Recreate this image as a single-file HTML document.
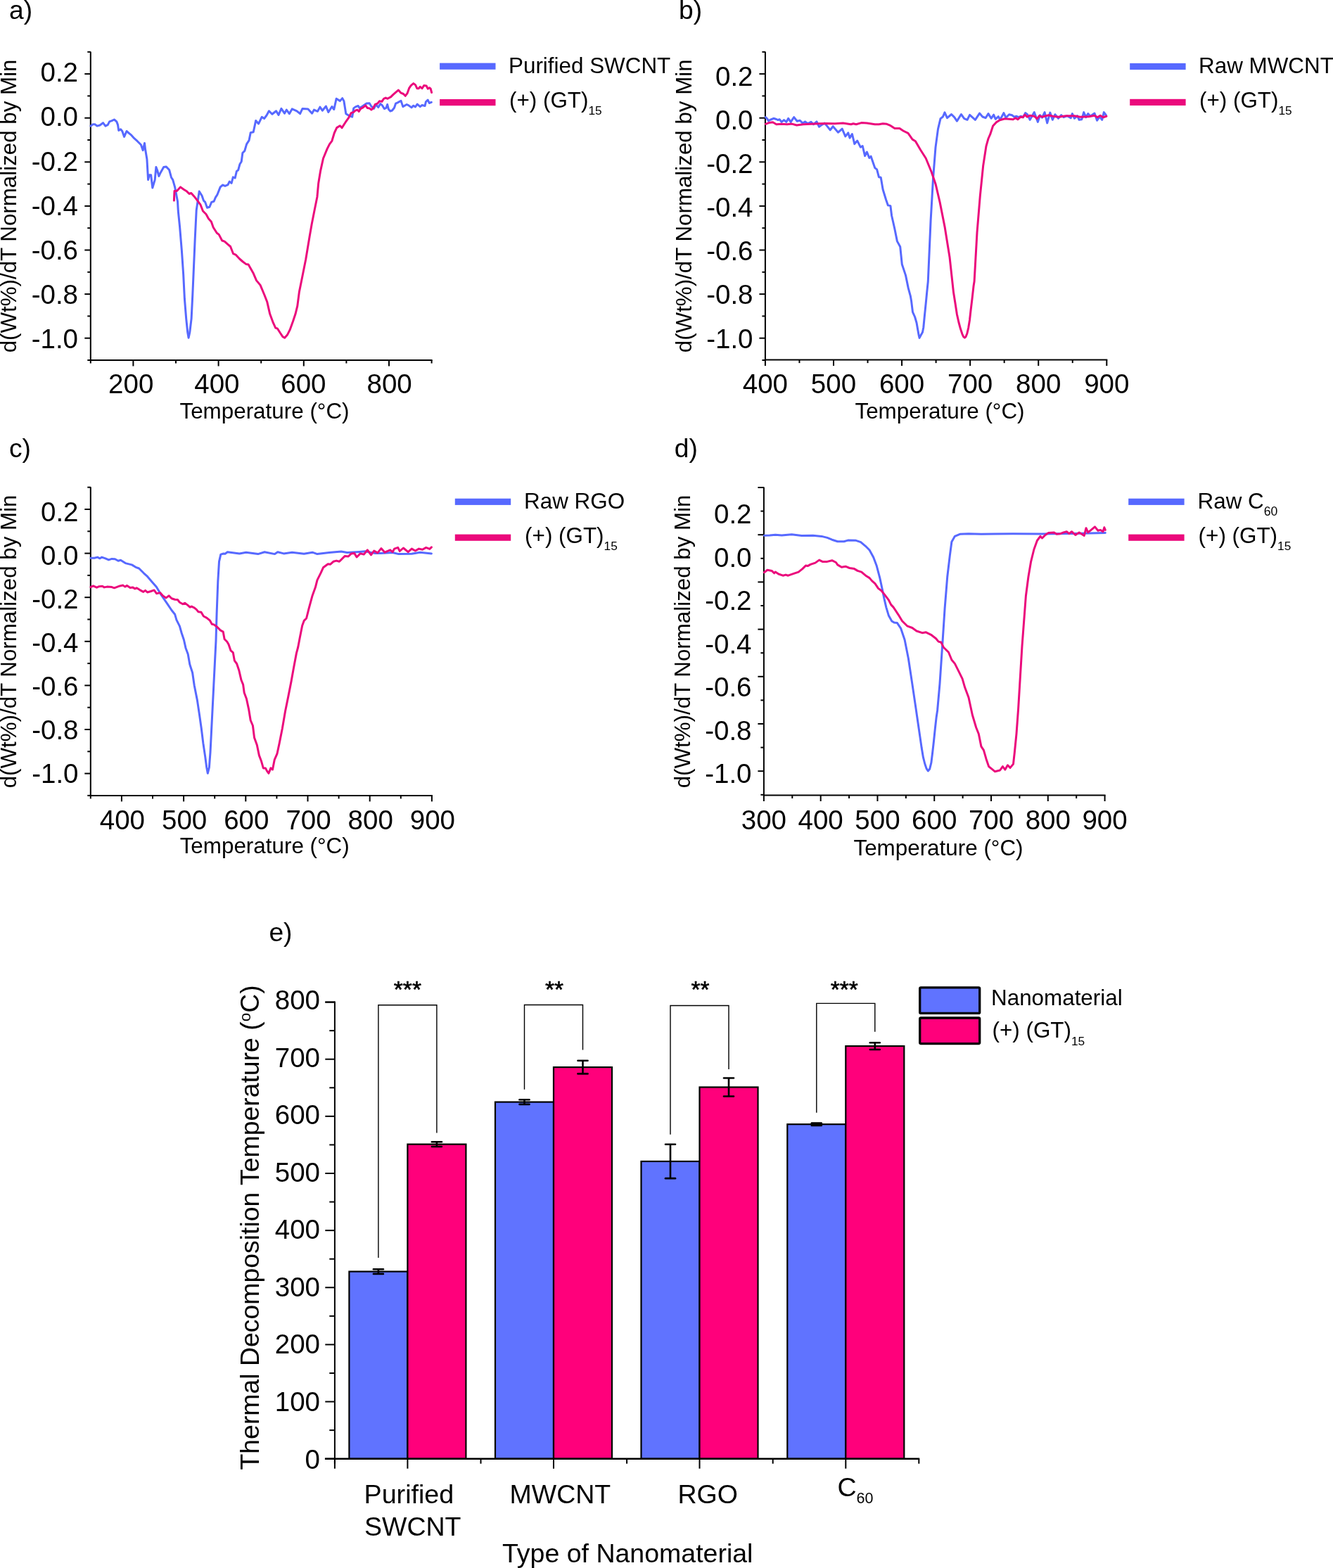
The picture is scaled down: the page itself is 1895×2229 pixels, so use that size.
<!DOCTYPE html>
<html><head><meta charset="utf-8"><title>Figure</title>
<style>html,body{margin:0;padding:0;background:#fff;} svg{display:block;} text{font-family:'Liberation Sans', Arial, sans-serif;fill:#000;}</style>
</head><body>
<svg width="1895" height="2229" viewBox="0 0 1895 2229">
<rect width="1895" height="2229" fill="#fff"/>
<line x1="128.80" y1="73.50" x2="128.80" y2="512.00" stroke="#000" stroke-width="2.0" stroke-linecap="butt"/>
<line x1="127.80" y1="512.00" x2="614.60" y2="512.00" stroke="#000" stroke-width="2.0" stroke-linecap="butt"/>
<line x1="120.30" y1="105.10" x2="128.80" y2="105.10" stroke="#000" stroke-width="2.0" stroke-linecap="butt"/>
<line x1="120.30" y1="167.70" x2="128.80" y2="167.70" stroke="#000" stroke-width="2.0" stroke-linecap="butt"/>
<line x1="120.30" y1="230.30" x2="128.80" y2="230.30" stroke="#000" stroke-width="2.0" stroke-linecap="butt"/>
<line x1="120.30" y1="292.90" x2="128.80" y2="292.90" stroke="#000" stroke-width="2.0" stroke-linecap="butt"/>
<line x1="120.30" y1="355.50" x2="128.80" y2="355.50" stroke="#000" stroke-width="2.0" stroke-linecap="butt"/>
<line x1="120.30" y1="418.10" x2="128.80" y2="418.10" stroke="#000" stroke-width="2.0" stroke-linecap="butt"/>
<line x1="120.30" y1="480.70" x2="128.80" y2="480.70" stroke="#000" stroke-width="2.0" stroke-linecap="butt"/>
<line x1="124.30" y1="73.80" x2="128.80" y2="73.80" stroke="#000" stroke-width="2.0" stroke-linecap="butt"/>
<line x1="124.30" y1="136.40" x2="128.80" y2="136.40" stroke="#000" stroke-width="2.0" stroke-linecap="butt"/>
<line x1="124.30" y1="199.00" x2="128.80" y2="199.00" stroke="#000" stroke-width="2.0" stroke-linecap="butt"/>
<line x1="124.30" y1="261.60" x2="128.80" y2="261.60" stroke="#000" stroke-width="2.0" stroke-linecap="butt"/>
<line x1="124.30" y1="324.20" x2="128.80" y2="324.20" stroke="#000" stroke-width="2.0" stroke-linecap="butt"/>
<line x1="124.30" y1="386.80" x2="128.80" y2="386.80" stroke="#000" stroke-width="2.0" stroke-linecap="butt"/>
<line x1="124.30" y1="449.40" x2="128.80" y2="449.40" stroke="#000" stroke-width="2.0" stroke-linecap="butt"/>
<line x1="124.30" y1="512.00" x2="128.80" y2="512.00" stroke="#000" stroke-width="2.0" stroke-linecap="butt"/>
<line x1="189.40" y1="512.00" x2="189.40" y2="520.50" stroke="#000" stroke-width="2.0" stroke-linecap="butt"/>
<line x1="310.60" y1="512.00" x2="310.60" y2="520.50" stroke="#000" stroke-width="2.0" stroke-linecap="butt"/>
<line x1="431.80" y1="512.00" x2="431.80" y2="520.50" stroke="#000" stroke-width="2.0" stroke-linecap="butt"/>
<line x1="553.00" y1="512.00" x2="553.00" y2="520.50" stroke="#000" stroke-width="2.0" stroke-linecap="butt"/>
<line x1="128.80" y1="512.00" x2="128.80" y2="516.50" stroke="#000" stroke-width="2.0" stroke-linecap="butt"/>
<line x1="250.00" y1="512.00" x2="250.00" y2="516.50" stroke="#000" stroke-width="2.0" stroke-linecap="butt"/>
<line x1="371.20" y1="512.00" x2="371.20" y2="516.50" stroke="#000" stroke-width="2.0" stroke-linecap="butt"/>
<line x1="492.40" y1="512.00" x2="492.40" y2="516.50" stroke="#000" stroke-width="2.0" stroke-linecap="butt"/>
<line x1="613.60" y1="512.00" x2="613.60" y2="516.50" stroke="#000" stroke-width="2.0" stroke-linecap="butt"/>
<text x="111.00" y="116.45" font-size="38.5" text-anchor="end" >0.2</text>
<text x="111.00" y="179.49" font-size="38.5" text-anchor="end" >0.0</text>
<text x="111.00" y="242.53" font-size="38.5" text-anchor="end" >-0.2</text>
<text x="111.00" y="305.57" font-size="38.5" text-anchor="end" >-0.4</text>
<text x="111.00" y="368.61" font-size="38.5" text-anchor="end" >-0.6</text>
<text x="111.00" y="431.65" font-size="38.5" text-anchor="end" >-0.8</text>
<text x="111.00" y="494.69" font-size="38.5" text-anchor="end" >-1.0</text>
<text x="186.20" y="559.10" font-size="38.5" text-anchor="middle" >200</text>
<text x="308.40" y="559.10" font-size="38.5" text-anchor="middle" >400</text>
<text x="431.40" y="559.10" font-size="38.5" text-anchor="middle" >600</text>
<text x="553.60" y="559.10" font-size="38.5" text-anchor="middle" >800</text>
<rect x="625.1" y="89.6" width="79.4" height="9.2" fill="#5769ff"/>
<rect x="625.1" y="141.0" width="79.4" height="9.2" fill="#eb0a7c"/>
<text x="723.00" y="103.50" font-size="31.4" text-anchor="start" >Purified SWCNT</text>
<text x="724.0" y="152.9" font-size="31.4">(+) (GT)<tspan font-size="17.3" dy="10.1">15</tspan></text>
<line x1="1087.90" y1="73.50" x2="1087.90" y2="511.60" stroke="#000" stroke-width="2.0" stroke-linecap="butt"/>
<line x1="1086.90" y1="511.60" x2="1574.30" y2="511.60" stroke="#000" stroke-width="2.0" stroke-linecap="butt"/>
<line x1="1079.40" y1="105.10" x2="1087.90" y2="105.10" stroke="#000" stroke-width="2.0" stroke-linecap="butt"/>
<line x1="1079.40" y1="167.70" x2="1087.90" y2="167.70" stroke="#000" stroke-width="2.0" stroke-linecap="butt"/>
<line x1="1079.40" y1="230.30" x2="1087.90" y2="230.30" stroke="#000" stroke-width="2.0" stroke-linecap="butt"/>
<line x1="1079.40" y1="292.90" x2="1087.90" y2="292.90" stroke="#000" stroke-width="2.0" stroke-linecap="butt"/>
<line x1="1079.40" y1="355.50" x2="1087.90" y2="355.50" stroke="#000" stroke-width="2.0" stroke-linecap="butt"/>
<line x1="1079.40" y1="418.10" x2="1087.90" y2="418.10" stroke="#000" stroke-width="2.0" stroke-linecap="butt"/>
<line x1="1079.40" y1="480.70" x2="1087.90" y2="480.70" stroke="#000" stroke-width="2.0" stroke-linecap="butt"/>
<line x1="1083.40" y1="73.80" x2="1087.90" y2="73.80" stroke="#000" stroke-width="2.0" stroke-linecap="butt"/>
<line x1="1083.40" y1="136.40" x2="1087.90" y2="136.40" stroke="#000" stroke-width="2.0" stroke-linecap="butt"/>
<line x1="1083.40" y1="199.00" x2="1087.90" y2="199.00" stroke="#000" stroke-width="2.0" stroke-linecap="butt"/>
<line x1="1083.40" y1="261.60" x2="1087.90" y2="261.60" stroke="#000" stroke-width="2.0" stroke-linecap="butt"/>
<line x1="1083.40" y1="324.20" x2="1087.90" y2="324.20" stroke="#000" stroke-width="2.0" stroke-linecap="butt"/>
<line x1="1083.40" y1="386.80" x2="1087.90" y2="386.80" stroke="#000" stroke-width="2.0" stroke-linecap="butt"/>
<line x1="1083.40" y1="449.40" x2="1087.90" y2="449.40" stroke="#000" stroke-width="2.0" stroke-linecap="butt"/>
<line x1="1083.40" y1="512.00" x2="1087.90" y2="512.00" stroke="#000" stroke-width="2.0" stroke-linecap="butt"/>
<line x1="1087.90" y1="511.60" x2="1087.90" y2="520.10" stroke="#000" stroke-width="2.0" stroke-linecap="butt"/>
<line x1="1184.98" y1="511.60" x2="1184.98" y2="520.10" stroke="#000" stroke-width="2.0" stroke-linecap="butt"/>
<line x1="1282.06" y1="511.60" x2="1282.06" y2="520.10" stroke="#000" stroke-width="2.0" stroke-linecap="butt"/>
<line x1="1379.14" y1="511.60" x2="1379.14" y2="520.10" stroke="#000" stroke-width="2.0" stroke-linecap="butt"/>
<line x1="1476.22" y1="511.60" x2="1476.22" y2="520.10" stroke="#000" stroke-width="2.0" stroke-linecap="butt"/>
<line x1="1573.30" y1="511.60" x2="1573.30" y2="520.10" stroke="#000" stroke-width="2.0" stroke-linecap="butt"/>
<line x1="1136.44" y1="511.60" x2="1136.44" y2="516.10" stroke="#000" stroke-width="2.0" stroke-linecap="butt"/>
<line x1="1233.52" y1="511.60" x2="1233.52" y2="516.10" stroke="#000" stroke-width="2.0" stroke-linecap="butt"/>
<line x1="1330.60" y1="511.60" x2="1330.60" y2="516.10" stroke="#000" stroke-width="2.0" stroke-linecap="butt"/>
<line x1="1427.68" y1="511.60" x2="1427.68" y2="516.10" stroke="#000" stroke-width="2.0" stroke-linecap="butt"/>
<line x1="1524.76" y1="511.60" x2="1524.76" y2="516.10" stroke="#000" stroke-width="2.0" stroke-linecap="butt"/>
<text x="1070.50" y="121.80" font-size="38.5" text-anchor="end" >0.2</text>
<text x="1070.50" y="183.93" font-size="38.5" text-anchor="end" >0.0</text>
<text x="1070.50" y="246.06" font-size="38.5" text-anchor="end" >-0.2</text>
<text x="1070.50" y="308.19" font-size="38.5" text-anchor="end" >-0.4</text>
<text x="1070.50" y="370.32" font-size="38.5" text-anchor="end" >-0.6</text>
<text x="1070.50" y="432.45" font-size="38.5" text-anchor="end" >-0.8</text>
<text x="1070.50" y="494.58" font-size="38.5" text-anchor="end" >-1.0</text>
<text x="1087.90" y="558.70" font-size="38.5" text-anchor="middle" >400</text>
<text x="1184.98" y="558.70" font-size="38.5" text-anchor="middle" >500</text>
<text x="1282.06" y="558.70" font-size="38.5" text-anchor="middle" >600</text>
<text x="1379.14" y="558.70" font-size="38.5" text-anchor="middle" >700</text>
<text x="1476.22" y="558.70" font-size="38.5" text-anchor="middle" >800</text>
<text x="1573.30" y="558.70" font-size="38.5" text-anchor="middle" >900</text>
<rect x="1606.2" y="89.9" width="79.4" height="9.2" fill="#5769ff"/>
<rect x="1606.2" y="140.8" width="79.4" height="9.2" fill="#eb0a7c"/>
<text x="1704.00" y="103.70" font-size="31.4" text-anchor="start" >Raw MWCNT</text>
<text x="1705.0" y="153.0" font-size="31.4">(+) (GT)<tspan font-size="17.3" dy="10.1">15</tspan></text>
<line x1="128.80" y1="692.20" x2="128.80" y2="1130.90" stroke="#000" stroke-width="2.0" stroke-linecap="butt"/>
<line x1="127.80" y1="1130.90" x2="614.90" y2="1130.90" stroke="#000" stroke-width="2.0" stroke-linecap="butt"/>
<line x1="120.30" y1="724.00" x2="128.80" y2="724.00" stroke="#000" stroke-width="2.0" stroke-linecap="butt"/>
<line x1="120.30" y1="786.60" x2="128.80" y2="786.60" stroke="#000" stroke-width="2.0" stroke-linecap="butt"/>
<line x1="120.30" y1="849.20" x2="128.80" y2="849.20" stroke="#000" stroke-width="2.0" stroke-linecap="butt"/>
<line x1="120.30" y1="911.80" x2="128.80" y2="911.80" stroke="#000" stroke-width="2.0" stroke-linecap="butt"/>
<line x1="120.30" y1="974.40" x2="128.80" y2="974.40" stroke="#000" stroke-width="2.0" stroke-linecap="butt"/>
<line x1="120.30" y1="1037.00" x2="128.80" y2="1037.00" stroke="#000" stroke-width="2.0" stroke-linecap="butt"/>
<line x1="120.30" y1="1099.60" x2="128.80" y2="1099.60" stroke="#000" stroke-width="2.0" stroke-linecap="butt"/>
<line x1="124.30" y1="692.70" x2="128.80" y2="692.70" stroke="#000" stroke-width="2.0" stroke-linecap="butt"/>
<line x1="124.30" y1="755.30" x2="128.80" y2="755.30" stroke="#000" stroke-width="2.0" stroke-linecap="butt"/>
<line x1="124.30" y1="817.90" x2="128.80" y2="817.90" stroke="#000" stroke-width="2.0" stroke-linecap="butt"/>
<line x1="124.30" y1="880.50" x2="128.80" y2="880.50" stroke="#000" stroke-width="2.0" stroke-linecap="butt"/>
<line x1="124.30" y1="943.10" x2="128.80" y2="943.10" stroke="#000" stroke-width="2.0" stroke-linecap="butt"/>
<line x1="124.30" y1="1005.70" x2="128.80" y2="1005.70" stroke="#000" stroke-width="2.0" stroke-linecap="butt"/>
<line x1="124.30" y1="1068.30" x2="128.80" y2="1068.30" stroke="#000" stroke-width="2.0" stroke-linecap="butt"/>
<line x1="124.30" y1="1130.90" x2="128.80" y2="1130.90" stroke="#000" stroke-width="2.0" stroke-linecap="butt"/>
<line x1="172.90" y1="1130.90" x2="172.90" y2="1139.40" stroke="#000" stroke-width="2.0" stroke-linecap="butt"/>
<line x1="261.10" y1="1130.90" x2="261.10" y2="1139.40" stroke="#000" stroke-width="2.0" stroke-linecap="butt"/>
<line x1="349.30" y1="1130.90" x2="349.30" y2="1139.40" stroke="#000" stroke-width="2.0" stroke-linecap="butt"/>
<line x1="437.50" y1="1130.90" x2="437.50" y2="1139.40" stroke="#000" stroke-width="2.0" stroke-linecap="butt"/>
<line x1="525.70" y1="1130.90" x2="525.70" y2="1139.40" stroke="#000" stroke-width="2.0" stroke-linecap="butt"/>
<line x1="613.90" y1="1130.90" x2="613.90" y2="1139.40" stroke="#000" stroke-width="2.0" stroke-linecap="butt"/>
<line x1="128.80" y1="1130.90" x2="128.80" y2="1135.40" stroke="#000" stroke-width="2.0" stroke-linecap="butt"/>
<line x1="217.00" y1="1130.90" x2="217.00" y2="1135.40" stroke="#000" stroke-width="2.0" stroke-linecap="butt"/>
<line x1="305.20" y1="1130.90" x2="305.20" y2="1135.40" stroke="#000" stroke-width="2.0" stroke-linecap="butt"/>
<line x1="393.40" y1="1130.90" x2="393.40" y2="1135.40" stroke="#000" stroke-width="2.0" stroke-linecap="butt"/>
<line x1="481.60" y1="1130.90" x2="481.60" y2="1135.40" stroke="#000" stroke-width="2.0" stroke-linecap="butt"/>
<line x1="569.80" y1="1130.90" x2="569.80" y2="1135.40" stroke="#000" stroke-width="2.0" stroke-linecap="butt"/>
<text x="111.50" y="741.40" font-size="38.5" text-anchor="end" >0.2</text>
<text x="111.50" y="803.40" font-size="38.5" text-anchor="end" >0.0</text>
<text x="111.50" y="865.40" font-size="38.5" text-anchor="end" >-0.2</text>
<text x="111.50" y="927.40" font-size="38.5" text-anchor="end" >-0.4</text>
<text x="111.50" y="989.40" font-size="38.5" text-anchor="end" >-0.6</text>
<text x="111.50" y="1051.40" font-size="38.5" text-anchor="end" >-0.8</text>
<text x="111.50" y="1113.40" font-size="38.5" text-anchor="end" >-1.0</text>
<text x="173.90" y="1178.70" font-size="38.5" text-anchor="middle" >400</text>
<text x="262.10" y="1178.70" font-size="38.5" text-anchor="middle" >500</text>
<text x="350.30" y="1178.70" font-size="38.5" text-anchor="middle" >600</text>
<text x="438.50" y="1178.70" font-size="38.5" text-anchor="middle" >700</text>
<text x="526.70" y="1178.70" font-size="38.5" text-anchor="middle" >800</text>
<text x="614.90" y="1178.70" font-size="38.5" text-anchor="middle" >900</text>
<rect x="646.8" y="708.7" width="79.4" height="9.2" fill="#5769ff"/>
<rect x="646.8" y="759.6" width="79.4" height="9.2" fill="#eb0a7c"/>
<text x="745.10" y="722.60" font-size="31.4" text-anchor="start" >Raw RGO</text>
<text x="746.1" y="772.3" font-size="31.4">(+) (GT)<tspan font-size="17.3" dy="10.1">15</tspan></text>
<line x1="1085.90" y1="692.50" x2="1085.90" y2="1130.50" stroke="#000" stroke-width="2.0" stroke-linecap="butt"/>
<line x1="1084.90" y1="1130.50" x2="1571.58" y2="1130.50" stroke="#000" stroke-width="2.0" stroke-linecap="butt"/>
<line x1="1077.40" y1="693.00" x2="1085.90" y2="693.00" stroke="#000" stroke-width="2.0" stroke-linecap="butt"/>
<line x1="1077.40" y1="760.20" x2="1085.90" y2="760.20" stroke="#000" stroke-width="2.0" stroke-linecap="butt"/>
<line x1="1077.40" y1="827.40" x2="1085.90" y2="827.40" stroke="#000" stroke-width="2.0" stroke-linecap="butt"/>
<line x1="1077.40" y1="894.60" x2="1085.90" y2="894.60" stroke="#000" stroke-width="2.0" stroke-linecap="butt"/>
<line x1="1077.40" y1="961.80" x2="1085.90" y2="961.80" stroke="#000" stroke-width="2.0" stroke-linecap="butt"/>
<line x1="1077.40" y1="1029.00" x2="1085.90" y2="1029.00" stroke="#000" stroke-width="2.0" stroke-linecap="butt"/>
<line x1="1077.40" y1="1096.20" x2="1085.90" y2="1096.20" stroke="#000" stroke-width="2.0" stroke-linecap="butt"/>
<line x1="1081.40" y1="726.60" x2="1085.90" y2="726.60" stroke="#000" stroke-width="2.0" stroke-linecap="butt"/>
<line x1="1081.40" y1="793.80" x2="1085.90" y2="793.80" stroke="#000" stroke-width="2.0" stroke-linecap="butt"/>
<line x1="1081.40" y1="861.00" x2="1085.90" y2="861.00" stroke="#000" stroke-width="2.0" stroke-linecap="butt"/>
<line x1="1081.40" y1="928.20" x2="1085.90" y2="928.20" stroke="#000" stroke-width="2.0" stroke-linecap="butt"/>
<line x1="1081.40" y1="995.40" x2="1085.90" y2="995.40" stroke="#000" stroke-width="2.0" stroke-linecap="butt"/>
<line x1="1081.40" y1="1062.60" x2="1085.90" y2="1062.60" stroke="#000" stroke-width="2.0" stroke-linecap="butt"/>
<line x1="1081.40" y1="1129.80" x2="1085.90" y2="1129.80" stroke="#000" stroke-width="2.0" stroke-linecap="butt"/>
<line x1="1085.90" y1="1130.50" x2="1085.90" y2="1139.00" stroke="#000" stroke-width="2.0" stroke-linecap="butt"/>
<line x1="1166.68" y1="1130.50" x2="1166.68" y2="1139.00" stroke="#000" stroke-width="2.0" stroke-linecap="butt"/>
<line x1="1247.46" y1="1130.50" x2="1247.46" y2="1139.00" stroke="#000" stroke-width="2.0" stroke-linecap="butt"/>
<line x1="1328.24" y1="1130.50" x2="1328.24" y2="1139.00" stroke="#000" stroke-width="2.0" stroke-linecap="butt"/>
<line x1="1409.02" y1="1130.50" x2="1409.02" y2="1139.00" stroke="#000" stroke-width="2.0" stroke-linecap="butt"/>
<line x1="1489.80" y1="1130.50" x2="1489.80" y2="1139.00" stroke="#000" stroke-width="2.0" stroke-linecap="butt"/>
<line x1="1570.58" y1="1130.50" x2="1570.58" y2="1139.00" stroke="#000" stroke-width="2.0" stroke-linecap="butt"/>
<line x1="1126.29" y1="1130.50" x2="1126.29" y2="1135.00" stroke="#000" stroke-width="2.0" stroke-linecap="butt"/>
<line x1="1207.07" y1="1130.50" x2="1207.07" y2="1135.00" stroke="#000" stroke-width="2.0" stroke-linecap="butt"/>
<line x1="1287.85" y1="1130.50" x2="1287.85" y2="1135.00" stroke="#000" stroke-width="2.0" stroke-linecap="butt"/>
<line x1="1368.63" y1="1130.50" x2="1368.63" y2="1135.00" stroke="#000" stroke-width="2.0" stroke-linecap="butt"/>
<line x1="1449.41" y1="1130.50" x2="1449.41" y2="1135.00" stroke="#000" stroke-width="2.0" stroke-linecap="butt"/>
<line x1="1530.19" y1="1130.50" x2="1530.19" y2="1135.00" stroke="#000" stroke-width="2.0" stroke-linecap="butt"/>
<text x="1068.50" y="744.30" font-size="38.5" text-anchor="end" >0.2</text>
<text x="1068.50" y="805.83" font-size="38.5" text-anchor="end" >0.0</text>
<text x="1068.50" y="867.36" font-size="38.5" text-anchor="end" >-0.2</text>
<text x="1068.50" y="928.89" font-size="38.5" text-anchor="end" >-0.4</text>
<text x="1068.50" y="990.42" font-size="38.5" text-anchor="end" >-0.6</text>
<text x="1068.50" y="1051.95" font-size="38.5" text-anchor="end" >-0.8</text>
<text x="1068.50" y="1113.48" font-size="38.5" text-anchor="end" >-1.0</text>
<text x="1085.90" y="1178.90" font-size="38.5" text-anchor="middle" >300</text>
<text x="1166.68" y="1178.90" font-size="38.5" text-anchor="middle" >400</text>
<text x="1247.46" y="1178.90" font-size="38.5" text-anchor="middle" >500</text>
<text x="1328.24" y="1178.90" font-size="38.5" text-anchor="middle" >600</text>
<text x="1409.02" y="1178.90" font-size="38.5" text-anchor="middle" >700</text>
<text x="1489.80" y="1178.90" font-size="38.5" text-anchor="middle" >800</text>
<text x="1570.58" y="1178.90" font-size="38.5" text-anchor="middle" >900</text>
<rect x="1604.2" y="708.7" width="79.4" height="9.2" fill="#5769ff"/>
<rect x="1604.2" y="759.6" width="79.4" height="9.2" fill="#eb0a7c"/>
<text x="1702.6" y="722.6" font-size="31.4">Raw C<tspan font-size="17.6" dy="10.2">60</tspan></text>
<text x="1703.6" y="772.3" font-size="31.4">(+) (GT)<tspan font-size="17.3" dy="10.1">15</tspan></text>
<text x="376.00" y="595.00" font-size="31.4" text-anchor="middle" >Temperature (°C)</text>
<text x="1336.00" y="594.80" font-size="31.4" text-anchor="middle" >Temperature (°C)</text>
<text x="376.20" y="1213.30" font-size="31.4" text-anchor="middle" >Temperature (°C)</text>
<text x="1334.00" y="1216.30" font-size="31.4" text-anchor="middle" >Temperature (°C)</text>
<text transform="translate(23.4,292.9) rotate(-90)" x="0" y="0" font-size="31.3" text-anchor="middle">d(Wt%)/dT Normalized by Min</text>
<text transform="translate(982.9,292.8) rotate(-90)" x="0" y="0" font-size="31.3" text-anchor="middle">d(Wt%)/dT Normalized by Min</text>
<text transform="translate(23.3,911.9) rotate(-90)" x="0" y="0" font-size="31.3" text-anchor="middle">d(Wt%)/dT Normalized by Min</text>
<text transform="translate(980.9,911.9) rotate(-90)" x="0" y="0" font-size="31.3" text-anchor="middle">d(Wt%)/dT Normalized by Min</text>
<text x="13.00" y="27.20" font-size="37.2" text-anchor="start" >a)</text>
<text x="965.00" y="27.20" font-size="37.2" text-anchor="start" >b)</text>
<text x="13.00" y="649.70" font-size="37.2" text-anchor="start" >c)</text>
<text x="958.80" y="649.70" font-size="37.2" text-anchor="start" >d)</text>
<text x="382.40" y="1338.30" font-size="37.2" text-anchor="start" >e)</text>
<rect x="496.40" y="1807.56" width="83.00" height="266.14" fill="#6073ff" stroke="#000" stroke-width="2.2"/>
<rect x="579.40" y="1626.62" width="83.00" height="447.08" fill="#ff007b" stroke="#000" stroke-width="2.2"/>
<rect x="704.00" y="1566.57" width="83.00" height="507.12" fill="#6073ff" stroke="#000" stroke-width="2.2"/>
<rect x="787.00" y="1517.08" width="83.00" height="556.62" fill="#ff007b" stroke="#000" stroke-width="2.2"/>
<rect x="911.50" y="1650.96" width="83.00" height="422.74" fill="#6073ff" stroke="#000" stroke-width="2.2"/>
<rect x="994.50" y="1545.48" width="83.00" height="528.22" fill="#ff007b" stroke="#000" stroke-width="2.2"/>
<rect x="1119.30" y="1598.22" width="83.00" height="475.48" fill="#6073ff" stroke="#000" stroke-width="2.2"/>
<rect x="1202.30" y="1487.06" width="83.00" height="586.64" fill="#ff007b" stroke="#000" stroke-width="2.2"/>
<line x1="537.90" y1="1804.23" x2="537.90" y2="1810.89" stroke="#000" stroke-width="2.6" stroke-linecap="butt"/>
<line x1="530.90" y1="1804.23" x2="544.90" y2="1804.23" stroke="#000" stroke-width="2.6" stroke-linecap="round"/>
<line x1="530.90" y1="1810.89" x2="544.90" y2="1810.89" stroke="#000" stroke-width="2.6" stroke-linecap="round"/>
<line x1="620.90" y1="1623.29" x2="620.90" y2="1629.95" stroke="#000" stroke-width="2.6" stroke-linecap="butt"/>
<line x1="613.90" y1="1623.29" x2="627.90" y2="1623.29" stroke="#000" stroke-width="2.6" stroke-linecap="round"/>
<line x1="613.90" y1="1629.95" x2="627.90" y2="1629.95" stroke="#000" stroke-width="2.6" stroke-linecap="round"/>
<line x1="745.50" y1="1563.25" x2="745.50" y2="1569.90" stroke="#000" stroke-width="2.6" stroke-linecap="butt"/>
<line x1="738.50" y1="1563.25" x2="752.50" y2="1563.25" stroke="#000" stroke-width="2.6" stroke-linecap="round"/>
<line x1="738.50" y1="1569.90" x2="752.50" y2="1569.90" stroke="#000" stroke-width="2.6" stroke-linecap="round"/>
<line x1="828.50" y1="1507.75" x2="828.50" y2="1526.41" stroke="#000" stroke-width="2.6" stroke-linecap="butt"/>
<line x1="821.50" y1="1507.75" x2="835.50" y2="1507.75" stroke="#000" stroke-width="2.6" stroke-linecap="round"/>
<line x1="821.50" y1="1526.41" x2="835.50" y2="1526.41" stroke="#000" stroke-width="2.6" stroke-linecap="round"/>
<line x1="953.00" y1="1626.78" x2="953.00" y2="1675.14" stroke="#000" stroke-width="2.6" stroke-linecap="butt"/>
<line x1="946.00" y1="1626.78" x2="960.00" y2="1626.78" stroke="#000" stroke-width="2.6" stroke-linecap="round"/>
<line x1="946.00" y1="1675.14" x2="960.00" y2="1675.14" stroke="#000" stroke-width="2.6" stroke-linecap="round"/>
<line x1="1036.00" y1="1532.50" x2="1036.00" y2="1558.46" stroke="#000" stroke-width="2.6" stroke-linecap="butt"/>
<line x1="1029.00" y1="1532.50" x2="1043.00" y2="1532.50" stroke="#000" stroke-width="2.6" stroke-linecap="round"/>
<line x1="1029.00" y1="1558.46" x2="1043.00" y2="1558.46" stroke="#000" stroke-width="2.6" stroke-linecap="round"/>
<line x1="1160.80" y1="1596.43" x2="1160.80" y2="1600.00" stroke="#000" stroke-width="2.6" stroke-linecap="butt"/>
<line x1="1153.80" y1="1596.43" x2="1167.80" y2="1596.43" stroke="#000" stroke-width="2.6" stroke-linecap="round"/>
<line x1="1153.80" y1="1600.00" x2="1167.80" y2="1600.00" stroke="#000" stroke-width="2.6" stroke-linecap="round"/>
<line x1="1243.80" y1="1482.19" x2="1243.80" y2="1491.93" stroke="#000" stroke-width="2.6" stroke-linecap="butt"/>
<line x1="1236.80" y1="1482.19" x2="1250.80" y2="1482.19" stroke="#000" stroke-width="2.6" stroke-linecap="round"/>
<line x1="1236.80" y1="1491.93" x2="1250.80" y2="1491.93" stroke="#000" stroke-width="2.6" stroke-linecap="round"/>
<polyline points="537.90,1787.90 537.90,1428.80 620.90,1428.80 620.90,1610.50" fill="none" stroke="#000" stroke-width="1.4"/>
<polyline points="745.50,1548.80 745.50,1428.50 828.50,1428.50 828.50,1492.50" fill="none" stroke="#000" stroke-width="1.4"/>
<polyline points="953.00,1612.70 953.00,1429.50 1036.00,1429.50 1036.00,1520.10" fill="none" stroke="#000" stroke-width="1.4"/>
<polyline points="1160.80,1581.80 1160.80,1426.40 1243.80,1426.40 1243.80,1466.70" fill="none" stroke="#000" stroke-width="1.4"/>
<text x="579.40" y="1417.60" font-size="33.5" text-anchor="middle" stroke="#000" stroke-width="0.6">***</text>
<text x="788.00" y="1417.60" font-size="33.5" text-anchor="middle" stroke="#000" stroke-width="0.6">**</text>
<text x="995.50" y="1417.60" font-size="33.5" text-anchor="middle" stroke="#000" stroke-width="0.6">**</text>
<text x="1200.30" y="1417.60" font-size="33.5" text-anchor="middle" stroke="#000" stroke-width="0.6">***</text>
<line x1="475.90" y1="1423.60" x2="475.90" y2="2087.70" stroke="#000" stroke-width="2.0" stroke-linecap="butt"/>
<line x1="461.90" y1="2073.70" x2="1307.20" y2="2073.70" stroke="#000" stroke-width="2.5" stroke-linecap="butt"/>
<line x1="462.30" y1="2073.70" x2="475.90" y2="2073.70" stroke="#000" stroke-width="2.0" stroke-linecap="butt"/>
<text x="455.00" y="2087.60" font-size="38.5" text-anchor="end" >0</text>
<line x1="462.30" y1="1992.56" x2="475.90" y2="1992.56" stroke="#000" stroke-width="2.0" stroke-linecap="butt"/>
<text x="455.00" y="2006.02" font-size="38.5" text-anchor="end" >100</text>
<line x1="462.30" y1="1911.42" x2="475.90" y2="1911.42" stroke="#000" stroke-width="2.0" stroke-linecap="butt"/>
<text x="455.00" y="1924.45" font-size="38.5" text-anchor="end" >200</text>
<line x1="462.30" y1="1830.28" x2="475.90" y2="1830.28" stroke="#000" stroke-width="2.0" stroke-linecap="butt"/>
<text x="455.00" y="1842.88" font-size="38.5" text-anchor="end" >300</text>
<line x1="462.30" y1="1749.14" x2="475.90" y2="1749.14" stroke="#000" stroke-width="2.0" stroke-linecap="butt"/>
<text x="455.00" y="1761.30" font-size="38.5" text-anchor="end" >400</text>
<line x1="462.30" y1="1668.00" x2="475.90" y2="1668.00" stroke="#000" stroke-width="2.0" stroke-linecap="butt"/>
<text x="455.00" y="1679.72" font-size="38.5" text-anchor="end" >500</text>
<line x1="462.30" y1="1586.86" x2="475.90" y2="1586.86" stroke="#000" stroke-width="2.0" stroke-linecap="butt"/>
<text x="455.00" y="1598.15" font-size="38.5" text-anchor="end" >600</text>
<line x1="462.30" y1="1505.72" x2="475.90" y2="1505.72" stroke="#000" stroke-width="2.0" stroke-linecap="butt"/>
<text x="455.00" y="1516.57" font-size="38.5" text-anchor="end" >700</text>
<line x1="462.30" y1="1424.58" x2="475.90" y2="1424.58" stroke="#000" stroke-width="2.0" stroke-linecap="butt"/>
<text x="455.00" y="1435.00" font-size="38.5" text-anchor="end" >800</text>
<line x1="468.30" y1="2033.13" x2="475.90" y2="2033.13" stroke="#000" stroke-width="2.0" stroke-linecap="butt"/>
<line x1="468.30" y1="1951.99" x2="475.90" y2="1951.99" stroke="#000" stroke-width="2.0" stroke-linecap="butt"/>
<line x1="468.30" y1="1870.85" x2="475.90" y2="1870.85" stroke="#000" stroke-width="2.0" stroke-linecap="butt"/>
<line x1="468.30" y1="1789.71" x2="475.90" y2="1789.71" stroke="#000" stroke-width="2.0" stroke-linecap="butt"/>
<line x1="468.30" y1="1708.57" x2="475.90" y2="1708.57" stroke="#000" stroke-width="2.0" stroke-linecap="butt"/>
<line x1="468.30" y1="1627.43" x2="475.90" y2="1627.43" stroke="#000" stroke-width="2.0" stroke-linecap="butt"/>
<line x1="468.30" y1="1546.29" x2="475.90" y2="1546.29" stroke="#000" stroke-width="2.0" stroke-linecap="butt"/>
<line x1="468.30" y1="1465.15" x2="475.90" y2="1465.15" stroke="#000" stroke-width="2.0" stroke-linecap="butt"/>
<line x1="462.30" y1="1424.58" x2="475.90" y2="1424.58" stroke="#000" stroke-width="2.0" stroke-linecap="butt"/>
<line x1="579.40" y1="2073.70" x2="579.40" y2="2087.70" stroke="#000" stroke-width="2.0" stroke-linecap="butt"/>
<line x1="787.00" y1="2073.70" x2="787.00" y2="2087.70" stroke="#000" stroke-width="2.0" stroke-linecap="butt"/>
<line x1="994.50" y1="2073.70" x2="994.50" y2="2087.70" stroke="#000" stroke-width="2.0" stroke-linecap="butt"/>
<line x1="1202.30" y1="2073.70" x2="1202.30" y2="2087.70" stroke="#000" stroke-width="2.0" stroke-linecap="butt"/>
<line x1="475.90" y1="2073.70" x2="475.90" y2="2080.70" stroke="#000" stroke-width="2.0" stroke-linecap="butt"/>
<line x1="683.50" y1="2073.70" x2="683.50" y2="2080.70" stroke="#000" stroke-width="2.0" stroke-linecap="butt"/>
<line x1="891.10" y1="2073.70" x2="891.10" y2="2080.70" stroke="#000" stroke-width="2.0" stroke-linecap="butt"/>
<line x1="1098.70" y1="2073.70" x2="1098.70" y2="2080.70" stroke="#000" stroke-width="2.0" stroke-linecap="butt"/>
<line x1="1306.30" y1="2073.70" x2="1306.30" y2="2080.70" stroke="#000" stroke-width="2.0" stroke-linecap="butt"/>
<text x="517.50" y="2137.20" font-size="37.7" text-anchor="start" >Purified</text>
<text x="518.00" y="2182.50" font-size="37.5" text-anchor="start" >SWCNT</text>
<text x="724.50" y="2137.30" font-size="37.5" text-anchor="start" >MWCNT</text>
<text x="963.50" y="2137.30" font-size="37.5" text-anchor="start" >RGO</text>
<text x="1190.5" y="2127.2" font-size="37.5">C<tspan font-size="21.5" dy="10.1">60</tspan></text>
<text x="714.00" y="2220.80" font-size="37.5" text-anchor="start" >Type of Nanomaterial</text>
<text transform="translate(367.8,1744.9) rotate(-90)" x="0" y="0" font-size="37.4" text-anchor="middle">Thermal Decomposition Temperature (<tspan font-size="22.5" dy="-12">o</tspan><tspan dy="12">C)</tspan></text>
<rect x="1307.7" y="1403.8" width="85" height="36.6" rx="1.5" fill="#6073ff" stroke="#000" stroke-width="3.3"/>
<rect x="1307.7" y="1447.0" width="85" height="36.6" rx="1.5" fill="#ff007b" stroke="#000" stroke-width="3.3"/>
<text x="1409.00" y="1429.30" font-size="31.4" text-anchor="start" >Nanomaterial</text>
<text x="1410.5" y="1475.2" font-size="31.4">(+) (GT)<tspan font-size="17.3" dy="10.3">15</tspan></text>
<path d="M129.0,179.1 L131.8,176.8 L135.2,176.8 L138.0,179.1 L142.0,178.0 L146.5,174.6 L149.9,179.1 L153.3,177.4 L155.6,172.9 L159.0,171.7 L162.4,170.0 L165.8,172.9 L167.5,177.4 L168.7,185.4 L171.5,183.7 L173.8,186.5 L176.6,194.4 L180.0,186.5 L184.0,189.9 L186.8,192.2 L190.8,196.7 L195.3,200.7 L200.4,205.8 L203.2,213.7 L205.5,203.5 L206.6,212.6 L208.9,226.2 L210.6,255.6 L212.3,248.8 L214.6,248.8 L216.8,267.0 L220.2,255.6 L221.9,237.5 L223.6,242.0 L225.9,250.5 L228.2,245.4 L232.7,237.5 L236.1,236.9 L240.6,241.5 L243.5,252.2 L245.7,255.6 L248.6,265.9 L252.5,286.3 L253.3,300.0 L255.6,322.7 L258.4,356.7 L260.7,390.7 L262.4,424.7 L264.7,453.1 L266.7,472.3 L268.1,480.3 L269.8,472.3 L272.1,453.1 L273.8,419.0 L275.5,379.4 L277.2,339.7 L279.2,298.7 L283.2,272.1 L287.1,278.3 L289.4,285.1 L291.7,287.4 L294.5,295.3 L297.9,294.2 L300.7,287.4 L304.1,286.3 L306.4,280.6 L308.7,277.2 L313.2,265.9 L316.6,263.0 L320.0,264.4 L324.0,262.7 L326.2,258.1 L329.1,260.4 L331.3,251.9 L334.2,253.0 L336.4,243.4 L338.7,241.7 L341.0,233.2 L343.2,229.8 L344.9,217.3 L347.8,214.5 L350.6,204.8 L354.0,199.7 L356.3,188.4 L360.2,187.8 L363.7,171.4 L367.6,175.9 L372.2,166.3 L375.6,168.5 L379.0,164.0 L382.4,157.8 L386.9,162.3 L392.6,157.8 L396.0,163.4 L399.9,154.4 L404.5,161.2 L407.3,156.1 L411.3,161.7 L415.2,154.9 L422.0,157.8 L426.6,161.7 L430.0,154.4 L437.9,154.9 L443.6,161.2 L446.4,156.1 L451.5,158.3 L454.9,152.1 L458.3,157.2 L463.4,151.0 L466.8,159.5 L471.9,151.5 L474.8,155.5 L478.2,140.2 L483.3,143.6 L486.7,139.6 L488.9,143.6 L491.8,161.7 L496.3,164.6 L500.7,166.2 L502.7,153.9 L505.4,151.9 L509.2,150.5 L511.2,153.6 L515.0,151.2 L521.1,147.1 L525.2,146.8 L527.9,151.2 L531.6,154.3 L534.4,148.5 L537.8,152.6 L540.8,147.5 L543.5,149.9 L546.3,154.6 L549.0,153.3 L550.7,148.5 L552.4,155.3 L554.8,158.0 L557.5,157.0 L560.5,153.3 L562.6,147.1 L565.3,145.8 L568.0,144.4 L570.1,143.4 L572.8,151.6 L578.2,148.5 L581.0,149.9 L585.0,152.9 L587.8,150.2 L590.5,151.9 L593.2,148.2 L597.3,151.6 L600.0,149.5 L604.1,150.5 L605.4,144.8 L608.2,142.0 L610.2,146.5 L613.3,145.4" fill="none" stroke="#5769ff" stroke-width="3.0" stroke-linejoin="round" stroke-linecap="round"/>
<path d="M247.4,285.1 L248.0,271.5 L251.4,271.5 L256.5,265.9 L261.1,269.3 L265.6,272.1 L269.0,275.5 L271.8,274.4 L275.8,278.9 L280.3,284.6 L284.9,290.8 L288.5,300.0 L293.0,304.5 L296.4,310.8 L300.4,315.3 L303.2,323.2 L308.3,331.2 L311.2,333.4 L315.7,342.0 L319.1,343.1 L323.6,347.1 L327.6,350.5 L331.6,360.7 L335.5,362.4 L340.6,368.0 L345.2,372.0 L349.7,375.4 L353.1,376.0 L359.9,387.9 L364.5,398.6 L370.1,405.4 L375.8,419.0 L379.8,429.3 L383.7,446.3 L388.3,458.7 L391.7,466.1 L394.5,467.2 L398.5,473.5 L401.9,478.6 L404.7,480.3 L408.7,475.7 L412.1,468.9 L416.6,456.5 L420.0,446.3 L422.8,434.9 L425.4,414.9 L430.1,391.8 L434.7,368.7 L440.1,336.3 L443.2,318.5 L447.0,299.3 L450.9,280.0 L452.7,260.4 L455.5,243.4 L459.5,225.2 L465.1,211.6 L468.5,204.8 L471.9,200.3 L475.3,189.0 L478.7,181.6 L483.3,178.8 L486.1,181.6 L491.2,173.7 L495.7,167.4 L499.1,160.6 L502.7,159.4 L505.4,157.0 L508.2,156.3 L510.2,158.4 L512.6,154.6 L516.3,152.6 L519.7,149.9 L522.4,153.6 L525.2,153.9 L527.9,156.0 L530.3,153.9 L533.3,148.5 L536.7,147.1 L539.5,143.7 L542.9,144.4 L545.6,140.3 L548.3,139.0 L551.0,140.3 L555.8,137.6 L558.5,134.9 L561.9,131.8 L566.3,128.1 L570.1,132.2 L573.5,133.5 L576.2,136.3 L578.9,132.9 L581.6,125.4 L584.4,121.3 L587.8,118.6 L590.5,120.6 L592.9,125.7 L595.2,125.7 L597.3,123.3 L600.0,125.7 L602.7,121.6 L606.1,122.0 L608.2,126.1 L610.5,124.7 L612.2,126.1 L613.6,131.5" fill="none" stroke="#eb0a7c" stroke-width="3.0" stroke-linejoin="round" stroke-linecap="round"/>
<path d="M1088.4,166.6 L1090.7,168.9 L1092.4,171.7 L1095.8,170.0 L1099.7,168.3 L1103.7,169.5 L1106.0,170.6 L1108.2,169.7 L1111.1,173.4 L1114.5,170.6 L1117.9,173.4 L1120.7,168.3 L1124.1,173.4 L1128.7,166.6 L1133.2,172.3 L1137.2,171.2 L1141.1,175.1 L1144.5,172.9 L1148.5,175.7 L1153.0,173.4 L1156.4,176.8 L1161.0,172.9 L1164.4,180.2 L1168.3,177.4 L1172.3,175.1 L1175.7,179.1 L1180.2,184.8 L1184.2,179.7 L1191.6,188.2 L1197.2,183.1 L1201.8,193.9 L1205.7,188.8 L1208.0,196.1 L1211.4,190.5 L1214.8,204.6 L1218.8,200.1 L1223.3,209.2 L1226.2,207.5 L1229.6,221.6 L1232.4,216.0 L1235.8,224.5 L1238.1,222.2 L1243.7,238.6 L1246.6,240.9 L1249.4,251.7 L1252.2,252.2 L1255.1,269.3 L1259.6,284.0 L1262.4,291.9 L1265.9,292.6 L1267.6,306.5 L1271.9,325.5 L1275.4,342.9 L1279.7,350.7 L1282.3,375.8 L1287.5,391.4 L1291.2,409.4 L1294.4,421.2 L1295.6,428.1 L1297.5,443.6 L1300.6,450.5 L1303.1,459.2 L1304.7,468.6 L1306.2,476.7 L1307.1,480.4 L1308.7,477.3 L1311.5,472.3 L1312.8,465.5 L1314.3,449.9 L1316.2,431.2 L1317.7,415.6 L1319.3,400.0 L1323.1,313.4 L1326.6,252.7 L1330.0,209.4 L1333.5,183.4 L1337.0,168.6 L1340.4,166.0 L1343.0,159.9 L1346.5,167.7 L1352.6,162.5 L1356.9,166.9 L1360.4,172.1 L1366.4,162.5 L1370.8,168.6 L1375.1,170.3 L1378.6,163.4 L1386.4,170.3 L1392.5,161.1 L1396.8,166.0 L1401.1,167.7 L1405.0,161.6 L1409.1,168.3 L1412.7,163.2 L1415.2,169.3 L1419.3,165.7 L1421.8,170.3 L1426.9,160.6 L1430.0,167.2 L1434.6,162.7 L1438.7,163.7 L1441.7,166.2 L1444.8,165.2 L1447.9,166.7 L1451.4,165.2 L1454.5,166.7 L1457.6,160.6 L1460.6,162.7 L1464.2,170.3 L1470.3,159.6 L1475.4,173.4 L1478.5,163.7 L1481.5,167.2 L1485.1,159.6 L1488.7,174.9 L1492.8,160.1 L1496.3,170.3 L1499.9,162.7 L1504.5,168.3 L1508.6,163.7 L1512.1,166.7 L1517.2,164.7 L1522.3,167.8 L1524.4,161.6 L1527.4,168.3 L1531.5,164.7 L1534.1,170.3 L1537.7,169.8 L1540.7,159.6 L1543.8,166.7 L1546.8,161.6 L1549.9,165.2 L1556.0,161.1 L1559.6,171.3 L1563.2,165.7 L1566.7,170.3 L1569.3,159.6 L1572.3,163.7" fill="none" stroke="#5769ff" stroke-width="3.0" stroke-linejoin="round" stroke-linecap="round"/>
<path d="M1088.4,176.3 L1092.9,174.6 L1098.6,173.8 L1103.7,176.8 L1111.1,176.3 L1119.0,176.8 L1125.8,176.1 L1132.6,178.0 L1141.7,176.8 L1153.0,176.3 L1164.4,175.7 L1175.7,175.4 L1187.0,175.7 L1198.4,175.1 L1209.7,176.8 L1213.1,175.7 L1217.1,176.8 L1224.5,174.6 L1232.4,174.9 L1243.7,176.8 L1249.4,176.8 L1255.1,175.7 L1260.7,176.3 L1265.0,178.1 L1271.9,182.5 L1278.9,182.5 L1284.1,186.0 L1291.0,189.4 L1297.1,198.1 L1301.4,200.7 L1308.4,212.8 L1316.2,225.0 L1324.0,244.0 L1330.0,261.4 L1336.1,287.4 L1343.0,322.1 L1350.0,365.4 L1355.5,415.6 L1358.0,431.2 L1360.4,446.8 L1362.9,458.0 L1365.4,467.3 L1367.9,474.8 L1369.8,478.9 L1371.4,480.1 L1372.9,478.9 L1374.8,474.2 L1376.7,466.1 L1378.5,454.9 L1380.1,440.5 L1382.0,424.9 L1384.1,406.2 L1385.1,400.0 L1389.0,330.7 L1393.3,278.7 L1397.7,235.4 L1402.0,207.6 L1405.0,197.0 L1407.6,191.2 L1411.6,179.0 L1416.2,173.9 L1421.3,170.8 L1428.5,168.8 L1434.6,169.3 L1440.2,169.8 L1443.8,167.8 L1446.8,169.8 L1450.9,166.2 L1454.0,166.7 L1457.0,163.2 L1460.1,166.2 L1464.2,164.2 L1470.3,165.2 L1474.4,168.8 L1477.4,164.7 L1481.5,166.2 L1486.6,164.7 L1490.7,163.7 L1496.8,165.2 L1505.0,166.2 L1515.2,164.7 L1527.4,164.7 L1535.6,166.2 L1547.9,165.7 L1556.0,164.2 L1560.1,166.7 L1564.2,164.2 L1568.3,166.7 L1572.9,165.2" fill="none" stroke="#eb0a7c" stroke-width="3.0" stroke-linejoin="round" stroke-linecap="round"/>
<path d="M129.0,793.2 L134.1,793.2 L138.6,792.1 L142.0,793.8 L144.8,792.1 L149.9,793.8 L154.5,795.9 L159.0,794.4 L163.5,794.7 L168.1,797.2 L171.5,796.3 L178.3,800.6 L187.4,802.9 L193.0,806.3 L197.6,808.0 L204.4,814.8 L208.9,818.8 L215.7,826.7 L222.5,834.6 L229.3,846.0 L237.2,857.3 L244.0,867.5 L248.6,873.2 L250.9,881.1 L255.4,890.2 L258.2,900.0 L261.4,909.5 L264.0,921.2 L267.2,929.7 L269.8,944.5 L273.6,956.2 L276.2,974.2 L280.4,995.4 L283.6,1016.6 L286.3,1035.7 L288.9,1056.9 L291.6,1074.9 L293.7,1090.8 L295.3,1099.3 L297.4,1090.8 L299.0,1069.6 L300.6,1037.8 L302.2,1006.0 L303.8,974.2 L305.4,942.4 L307.0,910.6 L308.1,872.0 L309.8,826.7 L311.5,798.3 L313.8,788.1 L317.7,787.0 L320.0,787.2 L323.4,784.7 L340.4,786.9 L349.8,785.2 L366.8,787.6 L376.1,784.7 L390.6,787.6 L394.8,784.7 L403.3,786.9 L415.2,785.2 L432.2,787.2 L444.1,785.2 L451.0,787.6 L468.0,785.5 L485.0,784.1 L493.5,785.5 L507.1,784.7 L519.0,783.8 L532.6,786.4 L541.1,786.4 L558.1,785.5 L566.6,787.6 L585.3,787.2 L597.2,785.2 L613.4,786.9" fill="none" stroke="#5769ff" stroke-width="3.0" stroke-linejoin="round" stroke-linecap="round"/>
<path d="M129.0,834.6 L132.4,832.9 L137.5,835.2 L140.9,833.7 L145.4,833.3 L148.2,834.9 L152.2,834.1 L159.0,834.6 L162.4,835.8 L165.8,834.6 L170.4,832.9 L174.9,832.1 L177.7,834.1 L180.6,832.4 L185.1,835.5 L188.5,834.9 L191.9,836.9 L194.2,835.8 L198.7,838.6 L203.8,841.4 L206.6,839.4 L209.5,842.0 L214.6,840.5 L219.1,838.9 L222.5,843.7 L227.6,842.6 L231.6,847.1 L236.1,849.9 L240.1,846.9 L244.0,850.7 L248.6,852.2 L252.5,852.5 L255.4,856.2 L259.9,858.7 L262.8,857.3 L266.7,860.1 L270.1,863.2 L272.4,862.1 L276.4,864.1 L279.2,866.4 L282.0,869.8 L286.0,870.3 L289.4,876.0 L293.9,878.3 L298.5,882.2 L301.3,887.3 L304.1,887.9 L308.7,891.3 L313.2,895.9 L317.2,898.1 L319.1,908.5 L322.8,912.2 L325.0,915.9 L328.1,924.9 L331.3,927.6 L333.4,939.2 L336.6,943.5 L339.8,953.0 L343.0,966.8 L345.6,973.1 L347.2,984.8 L350.4,993.3 L353.6,1008.1 L356.2,1024.0 L359.4,1031.5 L361.5,1048.4 L365.3,1059.0 L368.4,1073.9 L371.6,1082.3 L374.3,1091.9 L377.4,1091.9 L379.6,1096.1 L382.0,1099.3 L384.9,1091.9 L387.5,1094.0 L390.2,1080.2 L393.9,1071.7 L397.1,1056.9 L401.3,1035.7 L405.5,1011.3 L409.8,990.1 L414.0,968.9 L417.2,950.9 L421.4,928.6 L423.7,920.0 L426.3,906.3 L429.7,889.3 L432.2,882.4 L435.6,879.0 L439.0,865.4 L444.1,846.7 L448.4,834.8 L451.0,824.6 L456.1,814.4 L459.5,806.8 L466.3,801.7 L469.7,802.2 L473.9,798.3 L478.2,797.1 L482.4,798.3 L490.1,790.6 L495.2,791.0 L499.4,786.9 L503.7,786.4 L507.1,792.0 L512.2,786.9 L517.3,788.1 L522.4,781.8 L527.5,788.9 L531.7,783.0 L536.8,785.9 L541.9,779.6 L547.0,785.2 L554.7,781.8 L558.1,784.7 L560.6,780.1 L565.7,778.4 L568.3,783.5 L573.4,779.0 L580.2,784.7 L585.3,780.1 L590.4,783.0 L595.5,780.1 L600.6,781.3 L605.7,778.4 L610.8,780.4 L613.4,777.9" fill="none" stroke="#eb0a7c" stroke-width="3.0" stroke-linejoin="round" stroke-linecap="round"/>
<path d="M1086.4,761.3 L1094.3,761.0 L1102.3,760.2 L1111.3,761.0 L1125.5,759.8 L1139.7,761.5 L1155.6,761.3 L1168.0,762.4 L1176.0,764.4 L1182.8,767.2 L1190.7,769.7 L1199.8,769.7 L1205.4,768.1 L1216.8,768.3 L1223.6,770.6 L1230.4,776.3 L1236.1,782.0 L1241.7,792.2 L1246.3,804.6 L1250.8,821.6 L1254.2,837.5 L1257.0,851.1 L1259.9,863.6 L1263.3,874.9 L1267.8,882.9 L1271.2,885.1 L1275.5,885.6 L1280.7,893.4 L1286.1,909.5 L1291.4,936.2 L1296.8,971.9 L1302.1,1007.6 L1305.1,1028.3 L1307.8,1046.6 L1310.1,1062.6 L1312.4,1076.4 L1314.7,1085.5 L1317.0,1092.4 L1319.3,1096.0 L1321.6,1093.3 L1323.9,1084.1 L1325.7,1069.5 L1327.5,1053.5 L1329.4,1035.2 L1331.2,1019.2 L1332.6,1010.0 L1336.0,971.9 L1339.6,918.4 L1343.1,864.9 L1346.7,820.3 L1350.3,789.9 L1352.9,770.3 L1357.4,762.3 L1364.5,759.3 L1377.0,758.7 L1394.9,759.3 L1412.7,758.9 L1440.0,758.7 L1480.0,758.9 L1520.0,758.5 L1550.0,758.0 L1571.3,757.5" fill="none" stroke="#5769ff" stroke-width="3.0" stroke-linejoin="round" stroke-linecap="round"/>
<path d="M1086.4,813.7 L1090.9,810.3 L1097.2,811.4 L1100.6,814.8 L1102.3,813.1 L1106.8,816.0 L1113.0,818.2 L1117.0,817.1 L1120.4,818.2 L1128.4,815.4 L1135.2,813.1 L1140.8,808.6 L1145.4,804.1 L1148.2,804.6 L1152.2,802.4 L1159.0,800.1 L1164.6,796.1 L1169.2,798.4 L1176.0,798.4 L1182.8,796.7 L1188.4,799.5 L1190.7,802.9 L1196.4,806.3 L1202.0,805.2 L1207.7,807.5 L1214.5,808.6 L1219.1,811.4 L1224.7,813.1 L1231.5,818.8 L1236.1,821.6 L1239.5,825.6 L1244.0,829.6 L1248.5,836.4 L1253.1,839.8 L1257.6,845.4 L1263.3,852.8 L1266.7,859.6 L1270.0,863.1 L1277.1,873.8 L1282.5,882.7 L1289.6,889.8 L1296.8,892.5 L1303.0,897.0 L1311.0,899.7 L1316.4,898.8 L1323.5,902.3 L1330.6,907.7 L1334.2,912.1 L1337.8,913.0 L1341.4,920.2 L1348.5,927.3 L1352.9,938.0 L1357.4,943.4 L1362.8,954.1 L1368.1,964.8 L1371.7,977.3 L1377.0,991.5 L1382.4,1016.5 L1387.7,1034.3 L1391.3,1043.2 L1394.9,1061.1 L1398.4,1066.4 L1402.0,1078.9 L1405.6,1089.6 L1410.0,1093.2 L1414.5,1096.8 L1421.6,1095.0 L1425.4,1089.6 L1428.9,1094.1 L1432.5,1087.8 L1436.1,1091.4 L1440.5,1086.1 L1442.3,1070.0 L1445.0,1043.2 L1447.6,1007.6 L1450.3,963.0 L1453.0,918.4 L1455.7,882.7 L1458.4,847.0 L1461.9,820.3 L1465.5,798.9 L1469.9,781.0 L1474.4,768.5 L1478.9,762.3 L1481.5,765.0 L1486.0,760.5 L1490.5,757.5 L1498.5,756.9 L1502.1,759.3 L1507.4,758.7 L1511.9,756.9 L1516.3,755.7 L1519.9,758.7 L1523.5,755.7 L1528.8,760.5 L1534.2,756.9 L1541.3,761.4 L1544.0,750.7 L1546.7,756.9 L1551.1,753.4 L1556.5,748.9 L1560.9,754.3 L1564.5,753.4 L1568.1,755.7 L1569.8,749.8 L1571.3,753.4" fill="none" stroke="#eb0a7c" stroke-width="3.0" stroke-linejoin="round" stroke-linecap="round"/>
</svg>
</body></html>
